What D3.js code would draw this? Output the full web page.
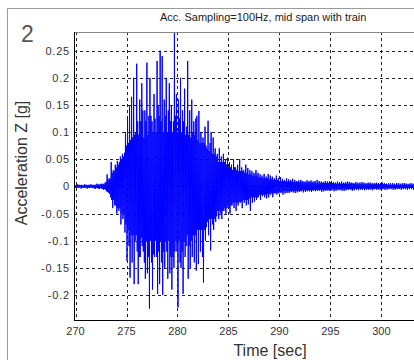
<!DOCTYPE html>
<html><head><meta charset="utf-8">
<script src="https://cdn.jsdelivr.net/npm/d3@7"></script>
<style>html,body{margin:0;padding:0;background:#fff;}svg{display:block;}</style>
</head><body>
<script>
// ---- data ----
const panelLabel = "2";
const titleText = "Acc. Sampling=100Hz, mid span with train";
const xLabel = "Time [sec]";
const yLabel = "Acceleration Z [g]";
const xTicks = [270, 275, 280, 285, 290, 295, 300];
const yTicks = [-0.2, -0.15, -0.1, -0.05, 0, 0.05, 0.1, 0.15, 0.2, 0.25];
const yTickLabels = ["-0.2", "-0.15", "-0.1", "-0.05", "0", "0.05", "0.1", "0.15", "0.2", "0.25"];
const sampleStart = 269.9;   // s
const sampleStep = 0.05;     // s (decimated trace)
const accel = [
  0.003,-0.002,0.002,-0.003,0.002,-0.002,0.004,-0.003,0.002,-0.002,0.003,-0.002,0.002,-0.004,0.003,-0.002,0.002,-0.003,0.002,-0.002,
  0.004,-0.003,0.002,-0.002,0.003,-0.004,0.002,-0.002,0.003,-0.003,0.002,-0.002,0.004,-0.002,0.002,-0.003,0.003,-0.002,0.002,-0.004,
  0.003,-0.004,0.003,-0.003,0.005,-0.003,0.003,-0.004,0.004,-0.005,0.003,-0.003,0.005,-0.004,0.004,-0.004,0.005,-0.006,0.004,-0.005,
  0.007,-0.006,0.008,-0.009,0.022,-0.01,0.012,-0.012,0.015,-0.014,0.014,-0.02,0.045,-0.025,0.025,-0.04,0.03,-0.025,0.028,-0.035,
  0.04,-0.035,0.035,-0.05,0.047,-0.04,0.04,-0.045,0.045,-0.04,0.055,-0.07,0.05,-0.05,0.06,-0.06,0.055,-0.05,0.062,-0.085,
  0.1,-0.07,0.075,-0.137,0.127,-0.08,0.08,-0.11,0.15,-0.168,0.085,-0.09,0.165,-0.14,0.09,-0.09,0.2,-0.18,0.095,-0.1,
  0.1,-0.09,0.226,-0.12,0.12,-0.18,0.095,-0.13,0.16,-0.13,0.12,-0.095,0.19,-0.11,0.14,-0.12,0.09,-0.14,0.14,-0.17,
  0.12,-0.1,0.228,-0.16,0.095,-0.13,0.13,-0.225,0.2,-0.1,0.13,-0.14,0.12,-0.19,0.1,-0.125,0.17,-0.13,0.125,-0.1,
  0.1,-0.13,0.231,-0.198,0.15,-0.12,0.13,-0.18,0.25,-0.1,0.12,-0.14,0.24,-0.2,0.1,-0.12,0.16,-0.15,0.13,-0.1,
  0.2,-0.12,0.1,-0.17,0.14,-0.1,0.19,-0.16,0.12,-0.13,0.15,-0.19,0.1,-0.13,0.12,-0.15,0.285,-0.12,0.13,-0.1,
  0.17,-0.12,0.1,-0.223,0.16,-0.1,0.125,-0.14,0.2,-0.15,0.1,-0.12,0.14,-0.198,0.12,-0.1,0.18,-0.13,0.095,-0.11,
  0.11,-0.09,0.231,-0.17,0.095,-0.11,0.14,-0.15,0.09,-0.1,0.16,-0.13,0.1,-0.09,0.12,-0.14,0.095,-0.09,0.125,-0.155,
  0.13,-0.08,0.085,-0.143,0.139,-0.08,0.08,-0.12,0.1,-0.08,0.08,-0.13,0.09,-0.177,0.08,-0.08,0.11,-0.1,0.075,-0.075,
  0.07,-0.065,0.121,-0.09,0.065,-0.06,0.08,-0.118,0.1,-0.06,0.06,-0.07,0.09,-0.08,0.06,-0.06,0.07,-0.065,0.055,-0.055,
  0.06,-0.045,0.045,-0.06,0.07,-0.045,0.045,-0.05,0.055,-0.06,0.045,-0.045,0.06,-0.045,0.045,-0.04,0.05,-0.05,0.04,-0.04,
  0.053,-0.035,0.035,-0.04,0.045,-0.05,0.035,-0.035,0.04,-0.035,0.03,-0.03,0.05,-0.04,0.035,-0.03,0.035,-0.045,0.03,-0.03,
  0.04,-0.035,0.028,-0.028,0.05,-0.03,0.028,-0.028,0.035,-0.04,0.028,-0.025,0.03,-0.03,0.025,-0.025,0.04,-0.035,0.025,-0.025,
  0.034,-0.033,0.022,-0.022,0.03,-0.045,0.022,-0.02,0.028,-0.03,0.02,-0.02,0.025,-0.028,0.02,-0.02,0.03,-0.025,0.02,-0.02,
  0.025,-0.02,0.016,-0.016,0.022,-0.025,0.016,-0.015,0.02,-0.018,0.015,-0.015,0.023,-0.02,0.015,-0.015,0.018,-0.022,0.015,-0.014,
  0.023,-0.02,0.013,-0.013,0.02,-0.015,0.013,-0.012,0.018,-0.02,0.012,-0.012,0.015,-0.013,0.012,-0.012,0.02,-0.015,0.012,-0.011,
  0.015,-0.013,0.01,-0.01,0.017,-0.012,0.01,-0.01,0.014,-0.015,0.01,-0.009,0.012,-0.013,0.009,-0.009,0.015,-0.012,0.009,-0.009,
  0.013,-0.012,0.009,-0.009,0.012,-0.01,0.009,-0.008,0.014,-0.011,0.008,-0.008,0.012,-0.012,0.008,-0.008,0.01,-0.011,0.008,-0.008,
  0.011,-0.01,0.008,-0.008,0.012,-0.009,0.008,-0.007,0.01,-0.011,0.007,-0.007,0.009,-0.01,0.007,-0.007,0.011,-0.009,0.007,-0.007,
  0.01,-0.009,0.007,-0.007,0.011,-0.01,0.007,-0.007,0.009,-0.008,0.007,-0.006,0.01,-0.009,0.006,-0.006,0.012,-0.008,0.006,-0.006,
  0.01,-0.008,0.006,-0.006,0.009,-0.01,0.006,-0.006,0.008,-0.009,0.006,-0.006,0.01,-0.008,0.006,-0.006,0.009,-0.008,0.006,-0.006,
  0.009,-0.008,0.006,-0.006,0.01,-0.007,0.006,-0.005,0.008,-0.009,0.005,-0.005,0.007,-0.008,0.005,-0.005,0.009,-0.007,0.005,-0.005,
  0.008,-0.007,0.005,-0.005,0.009,-0.008,0.005,-0.005,0.007,-0.008,0.005,-0.005,0.008,-0.007,0.005,-0.005,0.009,-0.006,0.005,-0.005,
  0.008,-0.006,0.005,-0.005,0.007,-0.008,0.005,-0.005,0.006,-0.007,0.005,-0.004,0.008,-0.006,0.004,-0.004,0.007,-0.007,0.004,-0.004,
  0.007,-0.006,0.004,-0.004,0.008,-0.006,0.004,-0.004,0.007,-0.007,0.004,-0.004,0.006,-0.006,0.004,-0.004,0.007,-0.006,0.004,-0.004,
  0.007,-0.006,0.004,-0.004,0.006,-0.007,0.004,-0.004,0.006,-0.005,0.004,-0.004,0.007,-0.006,0.004,-0.004,0.006,-0.006,0.004,-0.004,
  0.006,-0.006,0.004,-0.004,0.007,-0.005,0.004,-0.004,0.006,-0.006,0.004,-0.003,0.005,-0.006,0.003,-0.003,0.006,-0.005,0.003,-0.003,
  0.006,-0.005,0.003,-0.003,0.006,-0.006,0.003,-0.003,0.005,-0.006,0.003,-0.003,0.006,-0.005,0.003,-0.003,0.006,-0.005,0.003,-0.003,
  0.005,-0.006,0.003,-0.003,0.006,-0.005,0.003,-0.003,0.006,-0.005,0.003,-0.003,0.005,-0.006,0.003,-0.003,0.005,-0.005,0.003,-0.003,
  0.006,-0.005,0.003,-0.003,0.005,-0.006,0.003,-0.003,0.005
];

// ---- layout ----
const W = 414, H = 360;
const plot = {left: 74, top: 32, right: 414, bottom: 320};
const x = d3.scaleLinear().domain([269.85, 303.2]).range([plot.left, plot.right]);
const y = d3.scaleLinear().domain([-0.246, 0.2844]).range([plot.bottom, plot.top]);

const svg = d3.select("body").append("svg").attr("width", W).attr("height", H);
const font = "Arial, 'Liberation Sans', Helvetica, sans-serif";

// outer figure frame
svg.append("path").attr("d", `M7.5,${H} V8.5 H${W}`).attr("fill", "none").attr("stroke", "#9a9a9a").attr("stroke-width", 1);

svg.append("defs").append("clipPath").attr("id", "clip")
  .append("rect").attr("x", plot.left).attr("y", plot.top).attr("width", plot.right - plot.left).attr("height", plot.bottom - plot.top);

// grid
const grid = svg.append("g").attr("stroke", "#222").attr("stroke-width", 1).attr("stroke-dasharray", "3,3");
grid.selectAll("line.v").data(xTicks).join("line")
  .attr("x1", d => Math.round(x(d)) + 0.5).attr("x2", d => Math.round(x(d)) + 0.5)
  .attr("y1", plot.top).attr("y2", plot.bottom);
grid.selectAll("line.h").data(yTicks).join("line")
  .attr("y1", d => Math.round(y(d)) + 0.5).attr("y2", d => Math.round(y(d)) + 0.5)
  .attr("x1", plot.left).attr("x2", plot.right);

// signal
const pts = accel.map((v, i) => [sampleStart + i * sampleStep, v]);
svg.append("path").datum(pts).attr("clip-path", "url(#clip)")
  .attr("fill", "none").attr("stroke", "#0000ff").attr("stroke-width", 1)
  .attr("d", d3.line().x(d => x(d[0])).y(d => y(d[1])));

// axes lines
svg.append("line").attr("x1", plot.left).attr("x2", plot.right).attr("y1", plot.top + 0.5).attr("y2", plot.top + 0.5).attr("stroke", "#888");
svg.append("line").attr("x1", plot.left + 0.5).attr("x2", plot.left + 0.5).attr("y1", plot.top).attr("y2", plot.bottom + 0.5).attr("stroke", "#000");
svg.append("line").attr("x1", plot.left).attr("x2", plot.right).attr("y1", plot.bottom + 0.5).attr("y2", plot.bottom + 0.5).attr("stroke", "#000");

// tick labels
svg.append("g").selectAll("text").data(xTicks).join("text")
  .attr("x", d => x(d)).attr("y", 335).attr("text-anchor", "middle")
  .attr("font-family", font).attr("font-size", 11).attr("fill", "#333").text(d => d);
svg.append("g").selectAll("text").data(yTicks).join("text")
  .attr("x", 70).attr("y", d => y(d) + 4).attr("text-anchor", "end")
  .attr("font-family", font).attr("font-size", 11).attr("letter-spacing", 0.8).attr("fill", "#333")
  .text((d, i) => yTickLabels[i]);

// axis titles
svg.append("text").attr("x", 270).attr("y", 356).attr("text-anchor", "middle")
  .attr("font-family", font).attr("font-size", 16).attr("fill", "#333").text(xLabel);
svg.append("text").attr("transform", "translate(27,163) rotate(-90)").attr("text-anchor", "middle")
  .attr("font-family", font).attr("font-size", 16).attr("fill", "#333").text(yLabel);

// title & panel label
svg.append("text").attr("x", 160).attr("y", 21).attr("font-family", font).attr("font-size", 11)
  .attr("fill", "#222").text(titleText);
svg.append("text").attr("x", 21).attr("y", 42).attr("font-family", font).attr("font-size", 23)
  .attr("fill", "#555").text(panelLabel);
</script>
</body></html>
